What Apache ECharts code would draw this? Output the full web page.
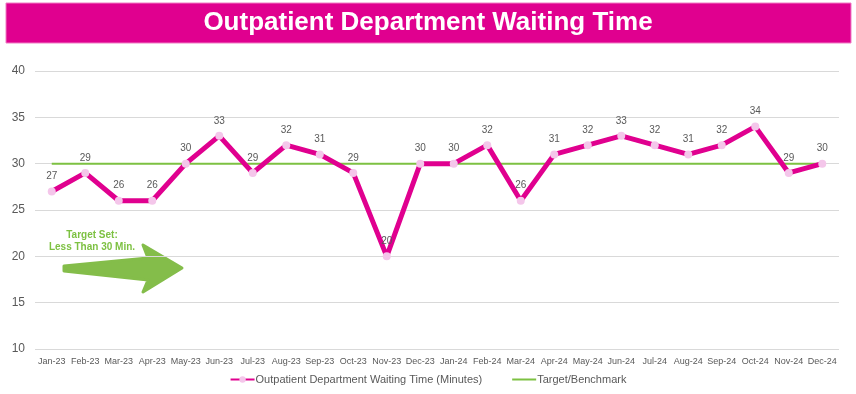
<!DOCTYPE html>
<html><head><meta charset="utf-8">
<script src="https://cdn.jsdelivr.net/npm/echarts@6/dist/echarts.min.js"></script>
<style>html,body{margin:0;padding:0;background:#fff}#c{width:856px;height:394px}</style>
</head><body><div id="c"></div>
<script>
const categories = ['Jan-23','Feb-23','Mar-23','Apr-23','May-23','Jun-23','Jul-23','Aug-23','Sep-23','Oct-23','Nov-23','Dec-23','Jan-24','Feb-24','Mar-24','Apr-24','May-24','Jun-24','Jul-24','Aug-24','Sep-24','Oct-24','Nov-24','Dec-24'];
const waitingTime = [27,29,26,26,30,33,29,32,31,29,20,30,30,32,26,31,32,33,32,31,32,34,29,30];
const target = [30,30,30,30,30,30,30,30,30,30,30,30,30,30,30,30,30,30,30,30,30,30,30,30];
const yTicks = [10,15,20,25,30,35,40];

const chart = echarts.init(document.getElementById('c'));
chart.setOption({
  animation:false,
  graphic:[
    {type:'rect',shape:{x:6,y:3,width:845,height:40},style:{fill:'#E0008F',stroke:'#F07CC4',lineWidth:1}},
    {type:'text',x:428,y:23,style:{text:'Outpatient Department Waiting Time',fill:'#fff',font:'bold 26px "Liberation Sans", Arial, sans-serif',textAlign:'center',textVerticalAlign:'middle'}},
    {type:'polygon',shape:{points:[[64,266],[148,258],[143,245],[182,268],[143,292],[148,280],[64,271]]},style:{fill:'#84BD4A',stroke:'#84BD4A',lineWidth:3,lineJoin:'round'}},
    {type:'text',x:92,y:235,style:{text:'Target Set:',fill:'#7DC142',font:'bold 10px "Liberation Sans", Arial, sans-serif',textAlign:'center',textVerticalAlign:'middle'}},
    {type:'text',x:92,y:247,style:{text:'Less Than 30 Min.',fill:'#7DC142',font:'bold 10px "Liberation Sans", Arial, sans-serif',textAlign:'center',textVerticalAlign:'middle'}}
  ],
  grid:{left:35,right:17,top:71,bottom:45},
  legend:{
    bottom:4,left:'center',itemGap:30,itemWidth:24,itemHeight:8,
    textStyle:{color:'#595959',fontSize:11,fontFamily:'"Liberation Sans", Arial, sans-serif',padding:[0,0,0,-4]},
    data:[{name:'Outpatient Department Waiting Time (Minutes)'},{name:'Target/Benchmark',icon:'path://M0,0 L24,0 L24,2 L0,2 Z'}]
  },
  xAxis:{type:'category',data:categories,boundaryGap:true,
    axisLine:{show:false},axisTick:{show:false},
    axisLabel:{color:'#595959',fontSize:9,interval:0,margin:8,fontFamily:'"Liberation Sans", Arial, sans-serif'}},
  yAxis:{type:'value',min:yTicks[0],max:yTicks[yTicks.length-1],interval:5,
    axisLine:{show:false},axisTick:{show:false},
    axisLabel:{color:'#595959',fontSize:12,margin:10,fontFamily:'"Liberation Sans", Arial, sans-serif'},
    splitLine:{lineStyle:{color:'#D9D9D9',width:1}}},
  series:[
    {name:'Target/Benchmark',type:'line',data:target,symbol:'none',lineStyle:{color:'#7DC142',width:2},itemStyle:{color:'#7DC142'},z:2},
    {name:'Outpatient Department Waiting Time (Minutes)',type:'line',data:waitingTime,
      symbol:'circle',symbolSize:8,
      lineStyle:{color:'#E0008F',width:5},
      itemStyle:{color:'#F4C6EA',borderWidth:0},
      label:{show:true,position:'top',distance:6,color:'#595959',fontSize:10,fontFamily:'"Liberation Sans", Arial, sans-serif'},
      z:3}
  ]
});
</script></body></html>
